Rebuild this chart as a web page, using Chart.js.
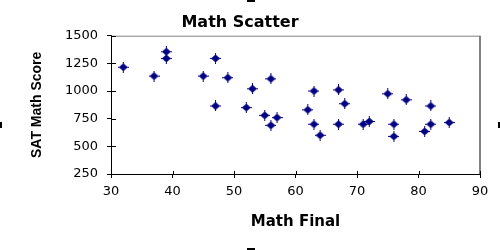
<!DOCTYPE html>
<html>
<head>
<meta charset="utf-8">
<script src="https://cdn.jsdelivr.net/npm/chart.js@4"></script>
<style>
  body { margin: 0; background: #fff; }
  #wrap { position: relative; width: 500px; height: 250px; }
  .handle { position: absolute; background: #000; }
</style>
</head>
<body>
<div id="wrap">
  <canvas id="chart" width="500" height="250"></canvas>
  <div class="handle" style="left:247px;top:0;width:8px;height:2px"></div>
  <div class="handle" style="left:247px;top:248px;width:8px;height:2px"></div>
  <div class="handle" style="left:0;top:122px;width:2px;height:6px"></div>
  <div class="handle" style="left:498px;top:122px;width:2px;height:6px"></div>
</div>
<script>
// Math final grade vs SAT math score
const mathFinal = [32, 37, 39, 39, 45, 47, 47, 49, 52, 53, 55, 56, 56, 57, 62, 63,
                   63, 64, 67, 67, 68, 71, 72, 75, 76, 76, 78, 81, 82, 82, 85];
const satMath = [1215, 1135, 1355, 1295, 1135, 1295, 865, 1120, 850, 1020, 780, 1110, 690, 760, 830, 1000,
                 700, 600, 1010, 700, 885, 700, 725, 975, 700, 590, 920, 635, 865, 700, 715];
const xTicks = [30, 40, 50, 60, 70, 80, 90];
const yTicks = [250, 500, 750, 1000, 1250, 1500];

const navy = '#000080';

// diamond marker with little arms, like the old excel one
const marker = document.createElement('canvas');
marker.width = 11;
marker.height = 11;
const m = marker.getContext('2d');
m.fillStyle = navy;
m.beginPath();
m.moveTo(5.5, 1.5);
m.lineTo(10, 5.5);
m.lineTo(5.5, 9.5);
m.lineTo(1, 5.5);
m.closePath();
m.fill();
m.fillRect(0, 5, 11, 1);
m.fillRect(5, 0, 1, 11);

// grey top/right frame and ticks that cross the axes
const frame = {
  id: 'frame',
  afterDraw(chart) {
    const {ctx, chartArea: a, scales} = chart;
    ctx.save();
    ctx.fillStyle = '#808080';
    ctx.fillRect(a.left, a.top, a.right - a.left, 1);
    ctx.fillRect(a.right - 1, a.top, 2, a.bottom - a.top);
    ctx.fillStyle = '#000';
    yTicks.forEach(v => {
      const y = Math.round(scales.y.getPixelForValue(v));
      ctx.fillRect(a.left, y, 5, 1);
    });
    xTicks.forEach(v => {
      const x = Math.round(scales.x.getPixelForValue(v));
      ctx.fillRect(x, a.bottom - 3, 1, 3);
    });
    ctx.restore();
  }
};

new Chart(document.getElementById('chart'), {
  type: 'scatter',
  data: {
    datasets: [{
      label: 'SAT Math',
      data: mathFinal.map((x, i) => ({x: x, y: satMath[i]})),
      pointStyle: marker,
      pointRadius: 5,
      pointHoverRadius: 5,
      backgroundColor: navy,
      borderColor: navy
    }]
  },
  options: {
    responsive: false,
    animation: false,
    layout: { padding: { left: 0, right: 20, top: 0, bottom: 0 } },
    plugins: {
      legend: { display: false },
      tooltip: { enabled: false },
      title: {
        display: true,
        text: 'Math Scatter',
        color: '#000',
        font: { family: 'DejaVu Sans', weight: 'bold', size: 16 },
        padding: { top: 13, bottom: 3.5 }
      }
    },
    scales: {
      x: {
        type: 'linear',
        position: 'bottom',
        min: 30,
        max: 90,
        afterBuildTicks: s => { s.ticks = xTicks.map(v => ({value: v})); },
        afterFit: s => { s.height = 76; },
        grid: { drawOnChartArea: false, color: '#000', tickLength: 4 },
        border: { color: '#000' },
        ticks: {
          color: '#000',
          padding: 6,
          maxRotation: 0,
          callback: v => String(v),
          font: { family: 'DejaVu Sans', size: 13 }
        },
        title: {
          display: true,
          text: 'Math Final',
          color: '#000',
          font: { family: 'DejaVu Sans', weight: 'bold', size: 15 },
          padding: { top: 0, bottom: 19 }
        }
      },
      y: {
        min: 250,
        max: 1500,
        afterBuildTicks: s => { s.ticks = yTicks.map(v => ({value: v})); },
        afterFit: s => { s.width = 111; },
        grid: { drawOnChartArea: false, color: '#000', tickLength: 4 },
        border: { color: '#000' },
        ticks: {
          color: '#000',
          padding: 9,
          callback: v => String(v),
          font: { family: 'DejaVu Sans', size: 13 }
        },
        title: {
          display: true,
          text: 'SAT Math Score',
          color: '#000',
          font: { family: 'Liberation Sans', weight: 'bold', size: 14 },
          padding: { top: 29, bottom: 0 }
        }
      }
    }
  },
  plugins: [frame]
});
</script>
</body>
</html>
